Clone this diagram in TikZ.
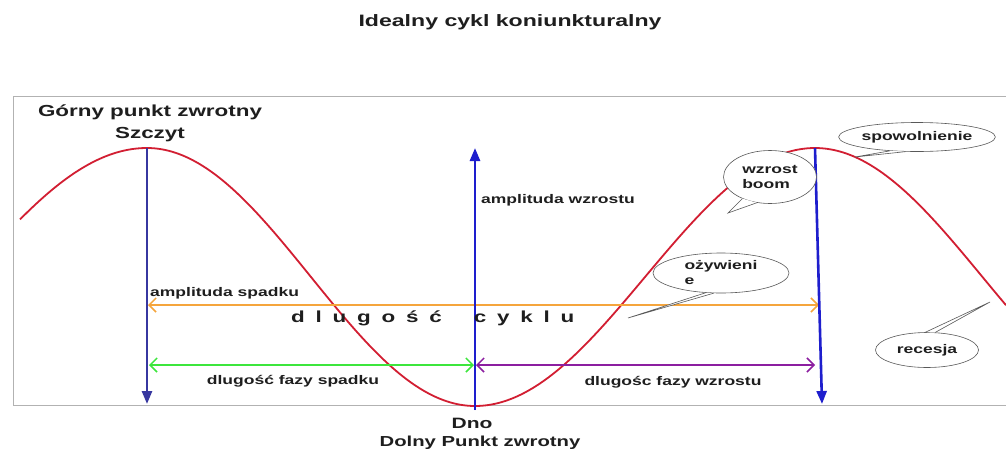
\documentclass[tikz,border=0pt]{standalone}
\usepackage{fontspec}
\setmainfont{Liberation Sans}[FakeStretch=1.4]
\usetikzlibrary{arrows.meta,shapes.geometric}
\definecolor{curvered}{RGB}{210,30,50}
\definecolor{navyblue}{RGB}{55,55,160}
\definecolor{brightblue}{RGB}{30,30,205}
\definecolor{arrorange}{RGB}{245,165,60}
\definecolor{arrgreen}{RGB}{60,230,60}
\definecolor{arrpurple}{RGB}{140,30,160}
\definecolor{txt}{RGB}{30,30,30}
\newcommand\lsp{\hspace{10.8pt}}
\begin{document}
\begin{tikzpicture}[x=1pt,y=-1pt,
  lbl/.style={font=\fontsize{12.5}{14}\selectfont\bfseries, text=txt, inner sep=0pt},
  biglbl/.style={font=\fontsize{16}{18}\selectfont\bfseries, text=txt, inner sep=0pt},
  redcurve/.style={draw=curvered, line width=1.8pt},
  vblue/.style={line width=2.6pt, -{Triangle[length=13pt,width=10pt]}},
  harrow/.style={line width=1.8pt, {Straight Barb[length=7pt,width=14pt,line width=1.5pt]}-{Straight Barb[length=7pt,width=14pt,line width=1.5pt]}},
  bubble/.style={ellipse, draw=gray!70!black, line width=0.6pt, fill=white, inner sep=0pt, font=\fontsize{12.5}{15}\selectfont\bfseries, text=txt},
  tail/.style={draw=gray!70!black, line width=0.6pt}
]
\useasboundingbox (0,0) rectangle (1006,453);
\fill[white] (0,0) rectangle (1006,453);
% frame
\coordinate (fbl) at (13,405);
\coordinate (ftl) at (13,96);
\coordinate (ftr) at (1006,96);
\coordinate (fbr) at (1006,405);
\draw[gray!60, line width=1pt] (ftr) -- (ftl) -- (fbl) -- (fbr);
% title
\node[biglbl, font=\fontsize{16.5}{18}\selectfont\bfseries] (title) at (510,22) {Idealny cykl koniunkturalny};
% curve
\draw[redcurve] plot[domain=20:147, samples=50, smooth] (\x, {277-129*cos((\x-147)*0.5)});
\draw[redcurve] plot[domain=147:475, samples=90, smooth] (\x, {277-129*cos((\x-147)*0.548780)});
\draw[redcurve] plot[domain=475:815, samples=90, smooth] (\x, {277+129*cos((\x-475)*0.529412)});
\draw[redcurve] plot[domain=815:1006, samples=60, smooth] (\x, {277-129*cos((\x-815)*0.537313)});
% key points
\coordinate (P1) at (147,148);
\coordinate (P1b) at (147,404);
\coordinate (Tb) at (475,410);
\coordinate (Tt) at (475,148);
\coordinate (P2) at (815,148);
\coordinate (P2b) at (822,404);
% horizontal arrows
\coordinate (O1) at (148,305);
\coordinate (O2) at (819,305);
\coordinate (G1) at (149,365);
\coordinate (G2) at (474,365);
\coordinate (V1) at (476,365);
\coordinate (V2) at (815,365);
\draw[harrow, draw=arrorange] (O1) -- (O2);
\draw[harrow, draw=arrgreen] (G1) -- (G2);
\draw[harrow, draw=arrpurple] (V1) -- (V2);
% vertical arrows
\draw[vblue, draw=navyblue, fill=navyblue] (P1) -- (P1b);
\draw[vblue, draw=brightblue, fill=brightblue] (Tb) -- (Tt);
\draw[vblue, draw=brightblue, fill=brightblue] (P2) -- (P2b);
% labels
\node[biglbl] (gorny) at (150,112) {Górny punkt zwrotny};
\node[biglbl] (szczyt) at (150,135) {Szczyt};
\node[lbl, anchor=west] (ampw) at (481,200) {amplituda wzrostu};
\node[lbl, anchor=west] (amps) at (150,293) {amplituda spadku};
\node[biglbl, anchor=west] (dlc) at (291,318) {d\lsp l\lsp u\lsp g\lsp o\lsp ś\lsp ć\hspace{32pt}c\lsp y\lsp k\lsp l\lsp u};
\node[lbl] (dfs) at (293,381) {dlugość fazy spadku};
\node[lbl] (dfw) at (673,382) {dlugośc fazy wzrostu};
\node[biglbl, font=\fontsize{15}{17}\selectfont\bfseries] (dno) at (472,423) {Dno};
\node[biglbl, font=\fontsize{14.5}{17}\selectfont\bfseries] (dolny) at (480,443) {Dolny Punkt zwrotny};
% callouts
\node[bubble, minimum width=147pt, minimum height=29pt] (cs) at (917,137) {spowolnienie};
\coordinate (cst) at (855,157);
\fill[white] (cs.207) -- (cst) -- (cs.232) -- cycle;
\draw[tail] (cs.207) -- (cst) -- (cs.232);

\node[bubble, minimum width=93pt, minimum height=53pt, align=left] (cw) at (770,177) {wzrost\\boom};
\coordinate (cwt) at (728,213);
\fill[white] (cw.218) -- (cwt) -- (cw.243) -- cycle;
\draw[tail] (cw.218) -- (cwt) -- (cw.243);

\node[bubble, minimum width=136pt, minimum height=40pt, align=left] (co) at (721,273) {ożywieni\\e};
\coordinate (cot) at (628,318);
\fill[white] (co.232) -- (cot) -- (co.250) -- cycle;
\draw[tail] (co.232) -- (cot) -- (co.250);

\node[bubble, minimum width=103pt, minimum height=35pt] (cr) at (927,350) {recesja};
\coordinate (crt) at (990,302);
\fill[white] (cr.95) -- (crt) -- (cr.65) -- cycle;
\draw[tail] (cr.95) -- (crt) -- (cr.65);
\end{tikzpicture}
\end{document}
